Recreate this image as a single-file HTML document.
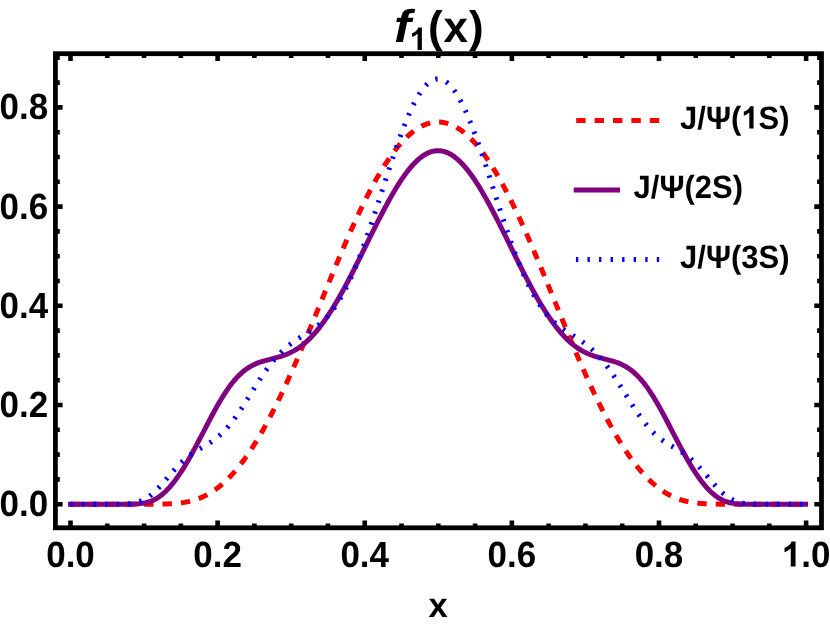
<!DOCTYPE html>
<html><head><meta charset="utf-8"><title>f1(x)</title>
<style>
html,body{margin:0;padding:0;background:#fff;}
body{width:830px;height:625px;overflow:hidden;}
svg{display:block;will-change:transform;}
text{font-family:"Liberation Sans",sans-serif;font-weight:bold;fill:#000;text-rendering:geometricPrecision;}
</style></head><body>
<svg width="830" height="625" viewBox="0 0 830 625">
<rect x="0" y="0" width="830" height="625" fill="#fff"/>
<g fill="none" stroke-width="5" stroke-linejoin="round">
<path d="M70.50,504.20 L72.34,504.20 L74.17,504.20 L76.01,504.20 L77.85,504.20 L79.69,504.20 L81.53,504.20 L83.36,504.20 L85.20,504.20 L87.04,504.20 L88.88,504.20 L90.71,504.20 L92.55,504.20 L94.39,504.20 L96.22,504.20 L98.06,504.20 L99.90,504.20 L101.74,504.20 L103.57,504.20 L105.41,504.20 L107.25,504.20 L109.09,504.20 L110.92,504.20 L112.76,504.20 L114.60,504.20 L116.44,504.20 L118.28,504.20 L120.11,504.20 L121.95,504.20 L123.79,504.20 L125.62,504.20 L127.46,504.20 L129.30,504.20 L131.14,504.20 L132.97,504.20 L134.81,504.20 L136.65,504.20 L138.49,504.20 L140.32,504.20 L142.16,504.20 L144.00,504.20 L145.84,504.19 L147.68,504.19 L149.51,504.19 L151.35,504.18 L153.19,504.17 L155.03,504.16 L156.86,504.14 L158.70,504.12 L160.54,504.10 L162.38,504.06 L164.21,504.02 L166.05,503.97 L167.89,503.90 L169.73,503.82 L171.56,503.72 L173.40,503.60 L175.24,503.46 L177.07,503.30 L178.91,503.11 L180.75,502.89 L182.59,502.63 L184.43,502.35 L186.26,502.02 L188.10,501.65 L189.94,501.23 L191.78,500.77 L193.61,500.26 L195.45,499.70 L197.29,499.08 L199.12,498.40 L200.96,497.66 L202.80,496.86 L204.64,496.00 L206.47,495.07 L208.31,494.07 L210.15,493.00 L211.99,491.86 L213.83,490.65 L215.66,489.36 L217.50,488.00 L219.34,486.57 L221.18,485.05 L223.01,483.47 L224.85,481.80 L226.69,480.06 L228.53,478.24 L230.36,476.34 L232.20,474.36 L234.04,472.31 L235.88,470.17 L237.71,467.96 L239.55,465.68 L241.39,463.31 L243.23,460.87 L245.06,458.36 L246.90,455.76 L248.74,453.10 L250.57,450.36 L252.41,447.54 L254.25,444.65 L256.09,441.69 L257.93,438.66 L259.76,435.56 L261.60,432.39 L263.44,429.15 L265.27,425.84 L267.11,422.47 L268.95,419.03 L270.79,415.53 L272.62,411.97 L274.46,408.34 L276.30,404.66 L278.14,400.91 L279.98,397.11 L281.81,393.26 L283.65,389.35 L285.49,385.39 L287.32,381.39 L289.16,377.33 L291.00,373.23 L292.84,369.08 L294.67,364.90 L296.51,360.67 L298.35,356.41 L300.19,352.12 L302.02,347.79 L303.86,343.43 L305.70,339.05 L307.54,334.64 L309.38,330.22 L311.21,325.77 L313.05,321.30 L314.89,316.83 L316.73,312.34 L318.56,307.85 L320.40,303.35 L322.24,298.85 L324.08,294.35 L325.91,289.85 L327.75,285.36 L329.59,280.89 L331.43,276.42 L333.26,271.97 L335.10,267.54 L336.94,263.14 L338.77,258.76 L340.61,254.40 L342.45,250.08 L344.29,245.79 L346.12,241.53 L347.96,237.32 L349.80,233.15 L351.64,229.02 L353.48,224.94 L355.31,220.91 L357.15,216.93 L358.99,213.01 L360.82,209.14 L362.66,205.34 L364.50,201.60 L366.34,197.92 L368.18,194.31 L370.01,190.76 L371.85,187.29 L373.69,183.89 L375.53,180.57 L377.36,177.32 L379.20,174.15 L381.04,171.07 L382.88,168.06 L384.71,165.14 L386.55,162.30 L388.39,159.56 L390.23,156.89 L392.06,154.32 L393.90,151.84 L395.74,149.46 L397.57,147.16 L399.41,144.96 L401.25,142.86 L403.09,140.85 L404.93,138.94 L406.76,137.13 L408.60,135.42 L410.44,133.80 L412.28,132.29 L414.11,130.88 L415.95,129.57 L417.79,128.37 L419.62,127.27 L421.46,126.27 L423.30,125.37 L425.14,124.58 L426.97,123.90 L428.81,123.31 L430.65,122.84 L432.49,122.47 L434.32,122.21 L436.16,122.05 L438.00,121.99 L439.84,122.05 L441.68,122.21 L443.51,122.47 L445.35,122.84 L447.19,123.31 L449.03,123.90 L450.86,124.58 L452.70,125.37 L454.54,126.27 L456.38,127.27 L458.21,128.37 L460.05,129.57 L461.89,130.88 L463.73,132.29 L465.56,133.80 L467.40,135.42 L469.24,137.13 L471.08,138.94 L472.91,140.85 L474.75,142.86 L476.59,144.96 L478.43,147.16 L480.26,149.46 L482.10,151.84 L483.94,154.32 L485.78,156.89 L487.61,159.56 L489.45,162.30 L491.29,165.14 L493.13,168.06 L494.96,171.07 L496.80,174.15 L498.64,177.32 L500.47,180.57 L502.31,183.89 L504.15,187.29 L505.99,190.76 L507.82,194.31 L509.66,197.92 L511.50,201.60 L513.34,205.34 L515.17,209.14 L517.01,213.01 L518.85,216.93 L520.69,220.91 L522.52,224.94 L524.36,229.02 L526.20,233.15 L528.04,237.32 L529.88,241.53 L531.71,245.79 L533.55,250.08 L535.39,254.40 L537.23,258.76 L539.06,263.14 L540.90,267.54 L542.74,271.97 L544.58,276.42 L546.41,280.89 L548.25,285.36 L550.09,289.85 L551.92,294.35 L553.76,298.85 L555.60,303.35 L557.44,307.85 L559.28,312.34 L561.11,316.83 L562.95,321.30 L564.79,325.77 L566.62,330.22 L568.46,334.64 L570.30,339.05 L572.14,343.43 L573.98,347.79 L575.81,352.12 L577.65,356.41 L579.49,360.67 L581.33,364.90 L583.16,369.08 L585.00,373.23 L586.84,377.33 L588.67,381.39 L590.51,385.39 L592.35,389.35 L594.19,393.26 L596.02,397.11 L597.86,400.91 L599.70,404.66 L601.54,408.34 L603.38,411.97 L605.21,415.53 L607.05,419.03 L608.89,422.47 L610.73,425.84 L612.56,429.15 L614.40,432.39 L616.24,435.56 L618.08,438.66 L619.91,441.69 L621.75,444.65 L623.59,447.54 L625.42,450.36 L627.26,453.10 L629.10,455.76 L630.94,458.36 L632.77,460.87 L634.61,463.31 L636.45,465.68 L638.29,467.96 L640.12,470.17 L641.96,472.31 L643.80,474.36 L645.64,476.34 L647.48,478.24 L649.31,480.06 L651.15,481.80 L652.99,483.47 L654.83,485.05 L656.66,486.57 L658.50,488.00 L660.34,489.36 L662.18,490.65 L664.01,491.86 L665.85,493.00 L667.69,494.07 L669.53,495.07 L671.36,496.00 L673.20,496.86 L675.04,497.66 L676.88,498.40 L678.71,499.08 L680.55,499.70 L682.39,500.26 L684.23,500.77 L686.06,501.23 L687.90,501.65 L689.74,502.02 L691.57,502.35 L693.41,502.63 L695.25,502.89 L697.09,503.11 L698.92,503.30 L700.76,503.46 L702.60,503.60 L704.44,503.72 L706.27,503.82 L708.11,503.90 L709.95,503.97 L711.79,504.02 L713.62,504.06 L715.46,504.10 L717.30,504.12 L719.14,504.14 L720.98,504.16 L722.81,504.17 L724.65,504.18 L726.49,504.19 L728.33,504.19 L730.16,504.19 L732.00,504.20 L733.84,504.20 L735.68,504.20 L737.51,504.20 L739.35,504.20 L741.19,504.20 L743.02,504.20 L744.86,504.20 L746.70,504.20 L748.54,504.20 L750.38,504.20 L752.21,504.20 L754.05,504.20 L755.89,504.20 L757.73,504.20 L759.56,504.20 L761.40,504.20 L763.24,504.20 L765.08,504.20 L766.91,504.20 L768.75,504.20 L770.59,504.20 L772.43,504.20 L774.26,504.20 L776.10,504.20 L777.94,504.20 L779.77,504.20 L781.61,504.20 L783.45,504.20 L785.29,504.20 L787.12,504.20 L788.96,504.20 L790.80,504.20 L792.64,504.20 L794.48,504.20 L796.31,504.20 L798.15,504.20 L799.99,504.20 L801.83,504.20 L803.66,504.20 L805.50,504.20" stroke="#ff0000" stroke-dasharray="9.4 9"/>
<path d="M70.50,504.20 L72.34,504.20 L74.17,504.20 L76.01,504.20 L77.85,504.20 L79.69,504.20 L81.53,504.20 L83.36,504.20 L85.20,504.20 L87.04,504.20 L88.88,504.20 L90.71,504.20 L92.55,504.20 L94.39,504.20 L96.22,504.20 L98.06,504.20 L99.90,504.20 L101.74,504.20 L103.57,504.20 L105.41,504.20 L107.25,504.20 L109.09,504.20 L110.92,504.20 L112.76,504.20 L114.60,504.20 L116.44,504.20 L118.28,504.20 L120.11,504.20 L121.95,504.20 L123.79,504.19 L125.62,504.19 L127.46,504.18 L129.30,504.16 L131.14,504.13 L132.97,504.09 L134.81,504.02 L136.65,503.93 L138.49,503.80 L140.32,503.62 L142.16,503.39 L144.00,503.09 L145.84,502.71 L147.68,502.25 L149.51,501.68 L151.35,501.01 L153.19,500.22 L155.03,499.30 L156.86,498.25 L158.70,497.08 L160.54,495.76 L162.38,494.30 L164.21,492.71 L166.05,490.97 L167.89,489.10 L169.73,487.09 L171.56,484.95 L173.40,482.68 L175.24,480.28 L177.07,477.76 L178.91,475.13 L180.75,472.39 L182.59,469.54 L184.43,466.59 L186.26,463.55 L188.10,460.41 L189.94,457.20 L191.78,453.91 L193.61,450.56 L195.45,447.15 L197.29,443.69 L199.12,440.19 L200.96,436.66 L202.80,433.12 L204.64,429.57 L206.47,426.02 L208.31,422.49 L210.15,418.99 L211.99,415.52 L213.83,412.11 L215.66,408.76 L217.50,405.49 L219.34,402.30 L221.18,399.20 L223.01,396.20 L224.85,393.31 L226.69,390.55 L228.53,387.90 L230.36,385.38 L232.20,382.99 L234.04,380.74 L235.88,378.63 L237.71,376.65 L239.55,374.80 L241.39,373.09 L243.23,371.51 L245.06,370.06 L246.90,368.73 L248.74,367.51 L250.57,366.41 L252.41,365.40 L254.25,364.50 L256.09,363.67 L257.93,362.93 L259.76,362.25 L261.60,361.64 L263.44,361.07 L265.27,360.55 L267.11,360.05 L268.95,359.57 L270.79,359.11 L272.62,358.65 L274.46,358.18 L276.30,357.70 L278.14,357.19 L279.98,356.65 L281.81,356.07 L283.65,355.45 L285.49,354.77 L287.32,354.03 L289.16,353.22 L291.00,352.35 L292.84,351.40 L294.67,350.37 L296.51,349.26 L298.35,348.06 L300.19,346.77 L302.02,345.38 L303.86,343.91 L305.70,342.34 L307.54,340.67 L309.38,338.90 L311.21,337.04 L313.05,335.07 L314.89,333.01 L316.73,330.86 L318.56,328.60 L320.40,326.26 L322.24,323.81 L324.08,321.28 L325.91,318.66 L327.75,315.95 L329.59,313.16 L331.43,310.28 L333.26,307.32 L335.10,304.29 L336.94,301.18 L338.77,298.01 L340.61,294.77 L342.45,291.46 L344.29,288.10 L346.12,284.68 L347.96,281.21 L349.80,277.69 L351.64,274.13 L353.48,270.53 L355.31,266.90 L357.15,263.24 L358.99,259.56 L360.82,255.85 L362.66,252.13 L364.50,248.40 L366.34,244.67 L368.18,240.94 L370.01,237.21 L371.85,233.49 L373.69,229.79 L375.53,226.12 L377.36,222.46 L379.20,218.85 L381.04,215.27 L382.88,211.73 L384.71,208.25 L386.55,204.81 L388.39,201.44 L390.23,198.14 L392.06,194.90 L393.90,191.75 L395.74,188.67 L397.57,185.68 L399.41,182.79 L401.25,179.99 L403.09,177.29 L404.93,174.70 L406.76,172.22 L408.60,169.86 L410.44,167.62 L412.28,165.50 L414.11,163.51 L415.95,161.65 L417.79,159.93 L419.62,158.35 L421.46,156.91 L423.30,155.61 L425.14,154.46 L426.97,153.45 L428.81,152.60 L430.65,151.90 L432.49,151.36 L434.32,150.97 L436.16,150.74 L438.00,150.66 L439.84,150.74 L441.68,150.97 L443.51,151.36 L445.35,151.90 L447.19,152.60 L449.03,153.45 L450.86,154.46 L452.70,155.61 L454.54,156.91 L456.38,158.35 L458.21,159.93 L460.05,161.65 L461.89,163.51 L463.73,165.50 L465.56,167.62 L467.40,169.86 L469.24,172.22 L471.08,174.70 L472.91,177.29 L474.75,179.99 L476.59,182.79 L478.43,185.68 L480.26,188.67 L482.10,191.75 L483.94,194.90 L485.78,198.14 L487.61,201.44 L489.45,204.81 L491.29,208.25 L493.13,211.73 L494.96,215.27 L496.80,218.85 L498.64,222.46 L500.47,226.12 L502.31,229.79 L504.15,233.49 L505.99,237.21 L507.82,240.94 L509.66,244.67 L511.50,248.40 L513.34,252.13 L515.17,255.85 L517.01,259.56 L518.85,263.24 L520.69,266.90 L522.52,270.53 L524.36,274.13 L526.20,277.69 L528.04,281.21 L529.88,284.68 L531.71,288.10 L533.55,291.46 L535.39,294.77 L537.23,298.01 L539.06,301.18 L540.90,304.29 L542.74,307.32 L544.58,310.28 L546.41,313.16 L548.25,315.95 L550.09,318.66 L551.92,321.28 L553.76,323.81 L555.60,326.26 L557.44,328.60 L559.28,330.86 L561.11,333.01 L562.95,335.07 L564.79,337.04 L566.62,338.90 L568.46,340.67 L570.30,342.34 L572.14,343.91 L573.98,345.38 L575.81,346.77 L577.65,348.06 L579.49,349.26 L581.33,350.37 L583.16,351.40 L585.00,352.35 L586.84,353.22 L588.67,354.03 L590.51,354.77 L592.35,355.45 L594.19,356.07 L596.02,356.65 L597.86,357.19 L599.70,357.70 L601.54,358.18 L603.38,358.65 L605.21,359.11 L607.05,359.57 L608.89,360.05 L610.73,360.55 L612.56,361.07 L614.40,361.64 L616.24,362.25 L618.08,362.93 L619.91,363.67 L621.75,364.50 L623.59,365.40 L625.42,366.41 L627.26,367.51 L629.10,368.73 L630.94,370.06 L632.77,371.51 L634.61,373.09 L636.45,374.80 L638.29,376.65 L640.12,378.63 L641.96,380.74 L643.80,382.99 L645.64,385.38 L647.48,387.90 L649.31,390.55 L651.15,393.31 L652.99,396.20 L654.83,399.20 L656.66,402.30 L658.50,405.49 L660.34,408.76 L662.18,412.11 L664.01,415.52 L665.85,418.99 L667.69,422.49 L669.53,426.02 L671.36,429.57 L673.20,433.12 L675.04,436.66 L676.88,440.19 L678.71,443.69 L680.55,447.15 L682.39,450.56 L684.23,453.91 L686.06,457.20 L687.90,460.41 L689.74,463.55 L691.57,466.59 L693.41,469.54 L695.25,472.39 L697.09,475.13 L698.92,477.76 L700.76,480.28 L702.60,482.68 L704.44,484.95 L706.27,487.09 L708.11,489.10 L709.95,490.97 L711.79,492.71 L713.62,494.30 L715.46,495.76 L717.30,497.08 L719.14,498.25 L720.98,499.30 L722.81,500.22 L724.65,501.01 L726.49,501.68 L728.33,502.25 L730.16,502.71 L732.00,503.09 L733.84,503.39 L735.68,503.62 L737.51,503.80 L739.35,503.93 L741.19,504.02 L743.02,504.09 L744.86,504.13 L746.70,504.16 L748.54,504.18 L750.38,504.19 L752.21,504.19 L754.05,504.20 L755.89,504.20 L757.73,504.20 L759.56,504.20 L761.40,504.20 L763.24,504.20 L765.08,504.20 L766.91,504.20 L768.75,504.20 L770.59,504.20 L772.43,504.20 L774.26,504.20 L776.10,504.20 L777.94,504.20 L779.77,504.20 L781.61,504.20 L783.45,504.20 L785.29,504.20 L787.12,504.20 L788.96,504.20 L790.80,504.20 L792.64,504.20 L794.48,504.20 L796.31,504.20 L798.15,504.20 L799.99,504.20 L801.83,504.20 L803.66,504.20 L805.50,504.20" stroke="#800080" stroke-linecap="square"/>
<path d="M70.50,504.20 L72.34,504.20 L74.17,504.20 L76.01,504.20 L77.85,504.20 L79.69,504.20 L81.53,504.20 L83.36,504.20 L85.20,504.20 L87.04,504.20 L88.88,504.20 L90.71,504.20 L92.55,504.20 L94.39,504.20 L96.22,504.20 L98.06,504.20 L99.90,504.20 L101.74,504.20 L103.57,504.20 L105.41,504.20 L107.25,504.20 L109.09,504.20 L110.92,504.20 L112.76,504.20 L114.60,504.19 L116.44,504.18 L118.28,504.17 L120.11,504.15 L121.95,504.11 L123.79,504.05 L125.62,503.97 L127.46,503.85 L129.30,503.69 L131.14,503.48 L132.97,503.20 L134.81,502.84 L136.65,502.40 L138.49,501.87 L140.32,501.22 L142.16,500.46 L144.00,499.57 L145.84,498.55 L147.68,497.40 L149.51,496.11 L151.35,494.68 L153.19,493.13 L155.03,491.45 L156.86,489.65 L158.70,487.76 L160.54,485.77 L162.38,483.72 L164.21,481.61 L166.05,479.46 L167.89,477.29 L169.73,475.12 L171.56,472.97 L173.40,470.85 L175.24,468.79 L177.07,466.78 L178.91,464.85 L180.75,463.00 L182.59,461.24 L184.43,459.57 L186.26,457.99 L188.10,456.51 L189.94,455.11 L191.78,453.79 L193.61,452.55 L195.45,451.37 L197.29,450.23 L199.12,449.14 L200.96,448.07 L202.80,447.01 L204.64,445.95 L206.47,444.86 L208.31,443.75 L210.15,442.58 L211.99,441.36 L213.83,440.06 L215.66,438.69 L217.50,437.22 L219.34,435.65 L221.18,433.98 L223.01,432.20 L224.85,430.30 L226.69,428.30 L228.53,426.18 L230.36,423.95 L232.20,421.61 L234.04,419.18 L235.88,416.64 L237.71,414.03 L239.55,411.33 L241.39,408.56 L243.23,405.74 L245.06,402.87 L246.90,399.96 L248.74,397.03 L250.57,394.09 L252.41,391.14 L254.25,388.21 L256.09,385.29 L257.93,382.41 L259.76,379.57 L261.60,376.79 L263.44,374.07 L265.27,371.41 L267.11,368.83 L268.95,366.34 L270.79,363.93 L272.62,361.62 L274.46,359.40 L276.30,357.27 L278.14,355.25 L279.98,353.32 L281.81,351.48 L283.65,349.74 L285.49,348.09 L287.32,346.53 L289.16,345.04 L291.00,343.63 L292.84,342.28 L294.67,340.99 L296.51,339.75 L298.35,338.55 L300.19,337.38 L302.02,336.24 L303.86,335.10 L305.70,333.96 L307.54,332.80 L309.38,331.63 L311.21,330.42 L313.05,329.16 L314.89,327.85 L316.73,326.46 L318.56,325.00 L320.40,323.45 L322.24,321.80 L324.08,320.04 L325.91,318.17 L327.75,316.17 L329.59,314.03 L331.43,311.75 L333.26,309.33 L335.10,306.75 L336.94,304.02 L338.77,301.12 L340.61,298.06 L342.45,294.83 L344.29,291.44 L346.12,287.88 L347.96,284.15 L349.80,280.25 L351.64,276.18 L353.48,271.96 L355.31,267.58 L357.15,263.05 L358.99,258.37 L360.82,253.55 L362.66,248.60 L364.50,243.53 L366.34,238.34 L368.18,233.04 L370.01,227.65 L371.85,222.18 L373.69,216.63 L375.53,211.03 L377.36,205.37 L379.20,199.68 L381.04,193.96 L382.88,188.24 L384.71,182.53 L386.55,176.83 L388.39,171.17 L390.23,165.55 L392.06,160.00 L393.90,154.52 L395.74,149.14 L397.57,143.86 L399.41,138.70 L401.25,133.68 L403.09,128.80 L404.93,124.09 L406.76,119.54 L408.60,115.19 L410.44,111.03 L412.28,107.09 L414.11,103.36 L415.95,99.87 L417.79,96.61 L419.62,93.61 L421.46,90.87 L423.30,88.40 L425.14,86.20 L426.97,84.27 L428.81,82.64 L430.65,81.30 L432.49,80.25 L434.32,79.50 L436.16,79.04 L438.00,78.89 L439.84,79.04 L441.68,79.50 L443.51,80.25 L445.35,81.30 L447.19,82.64 L449.03,84.27 L450.86,86.20 L452.70,88.40 L454.54,90.87 L456.38,93.61 L458.21,96.61 L460.05,99.87 L461.89,103.36 L463.73,107.09 L465.56,111.03 L467.40,115.19 L469.24,119.54 L471.08,124.09 L472.91,128.80 L474.75,133.68 L476.59,138.70 L478.43,143.86 L480.26,149.14 L482.10,154.52 L483.94,160.00 L485.78,165.55 L487.61,171.17 L489.45,176.83 L491.29,182.53 L493.13,188.24 L494.96,193.96 L496.80,199.68 L498.64,205.37 L500.47,211.03 L502.31,216.63 L504.15,222.18 L505.99,227.65 L507.82,233.04 L509.66,238.34 L511.50,243.53 L513.34,248.60 L515.17,253.55 L517.01,258.37 L518.85,263.05 L520.69,267.58 L522.52,271.96 L524.36,276.18 L526.20,280.25 L528.04,284.15 L529.88,287.88 L531.71,291.44 L533.55,294.83 L535.39,298.06 L537.23,301.12 L539.06,304.02 L540.90,306.75 L542.74,309.33 L544.58,311.75 L546.41,314.03 L548.25,316.17 L550.09,318.17 L551.92,320.04 L553.76,321.80 L555.60,323.45 L557.44,325.00 L559.28,326.46 L561.11,327.85 L562.95,329.16 L564.79,330.42 L566.62,331.63 L568.46,332.80 L570.30,333.96 L572.14,335.10 L573.98,336.24 L575.81,337.38 L577.65,338.55 L579.49,339.75 L581.33,340.99 L583.16,342.28 L585.00,343.63 L586.84,345.04 L588.67,346.53 L590.51,348.09 L592.35,349.74 L594.19,351.48 L596.02,353.32 L597.86,355.25 L599.70,357.27 L601.54,359.40 L603.38,361.62 L605.21,363.93 L607.05,366.34 L608.89,368.83 L610.73,371.41 L612.56,374.07 L614.40,376.79 L616.24,379.57 L618.08,382.41 L619.91,385.29 L621.75,388.21 L623.59,391.14 L625.42,394.09 L627.26,397.03 L629.10,399.96 L630.94,402.87 L632.77,405.74 L634.61,408.56 L636.45,411.33 L638.29,414.03 L640.12,416.64 L641.96,419.18 L643.80,421.61 L645.64,423.95 L647.48,426.18 L649.31,428.30 L651.15,430.30 L652.99,432.20 L654.83,433.98 L656.66,435.65 L658.50,437.22 L660.34,438.69 L662.18,440.06 L664.01,441.36 L665.85,442.58 L667.69,443.75 L669.53,444.86 L671.36,445.95 L673.20,447.01 L675.04,448.07 L676.88,449.14 L678.71,450.23 L680.55,451.37 L682.39,452.55 L684.23,453.79 L686.06,455.11 L687.90,456.51 L689.74,457.99 L691.57,459.57 L693.41,461.24 L695.25,463.00 L697.09,464.85 L698.92,466.78 L700.76,468.79 L702.60,470.85 L704.44,472.97 L706.27,475.12 L708.11,477.29 L709.95,479.46 L711.79,481.61 L713.62,483.72 L715.46,485.77 L717.30,487.76 L719.14,489.65 L720.98,491.45 L722.81,493.13 L724.65,494.68 L726.49,496.11 L728.33,497.40 L730.16,498.55 L732.00,499.57 L733.84,500.46 L735.68,501.22 L737.51,501.87 L739.35,502.40 L741.19,502.84 L743.02,503.20 L744.86,503.48 L746.70,503.69 L748.54,503.85 L750.38,503.97 L752.21,504.05 L754.05,504.11 L755.89,504.15 L757.73,504.17 L759.56,504.18 L761.40,504.19 L763.24,504.20 L765.08,504.20 L766.91,504.20 L768.75,504.20 L770.59,504.20 L772.43,504.20 L774.26,504.20 L776.10,504.20 L777.94,504.20 L779.77,504.20 L781.61,504.20 L783.45,504.20 L785.29,504.20 L787.12,504.20 L788.96,504.20 L790.80,504.20 L792.64,504.20 L794.48,504.20 L796.31,504.20 L798.15,504.20 L799.99,504.20 L801.83,504.20 L803.66,504.20 L805.50,504.20" stroke="#0000ff" stroke-dasharray="2.35 9.2"/>
</g>
<rect x="55.4" y="53.7" width="766.1" height="474.09999999999997" fill="none" stroke="#000" stroke-width="4.8"/>
<path d="M70.50,527.8 v-7.2 M70.50,53.7 v7.2 M107.28,527.8 v-4.4 M107.28,53.7 v4.4 M144.06,527.8 v-4.4 M144.06,53.7 v4.4 M180.84,527.8 v-4.4 M180.84,53.7 v4.4 M217.62,527.8 v-7.2 M217.62,53.7 v7.2 M254.40,527.8 v-4.4 M254.40,53.7 v4.4 M291.18,527.8 v-4.4 M291.18,53.7 v4.4 M327.96,527.8 v-4.4 M327.96,53.7 v4.4 M364.74,527.8 v-7.2 M364.74,53.7 v7.2 M401.52,527.8 v-4.4 M401.52,53.7 v4.4 M438.30,527.8 v-4.4 M438.30,53.7 v4.4 M475.08,527.8 v-4.4 M475.08,53.7 v4.4 M511.86,527.8 v-7.2 M511.86,53.7 v7.2 M548.64,527.8 v-4.4 M548.64,53.7 v4.4 M585.42,527.8 v-4.4 M585.42,53.7 v4.4 M622.20,527.8 v-4.4 M622.20,53.7 v4.4 M658.98,527.8 v-7.2 M658.98,53.7 v7.2 M695.76,527.8 v-4.4 M695.76,53.7 v4.4 M732.54,527.8 v-4.4 M732.54,53.7 v4.4 M769.32,527.8 v-4.4 M769.32,53.7 v4.4 M806.10,527.8 v-7.2 M806.10,53.7 v7.2 M55.4,504.20 h7.2 M821.5,504.20 h-7.2 M55.4,479.40 h4.4 M821.5,479.40 h-4.4 M55.4,454.60 h4.4 M821.5,454.60 h-4.4 M55.4,429.80 h4.4 M821.5,429.80 h-4.4 M55.4,405.00 h7.2 M821.5,405.00 h-7.2 M55.4,380.20 h4.4 M821.5,380.20 h-4.4 M55.4,355.40 h4.4 M821.5,355.40 h-4.4 M55.4,330.60 h4.4 M821.5,330.60 h-4.4 M55.4,305.80 h7.2 M821.5,305.80 h-7.2 M55.4,281.00 h4.4 M821.5,281.00 h-4.4 M55.4,256.20 h4.4 M821.5,256.20 h-4.4 M55.4,231.40 h4.4 M821.5,231.40 h-4.4 M55.4,206.60 h7.2 M821.5,206.60 h-7.2 M55.4,181.80 h4.4 M821.5,181.80 h-4.4 M55.4,157.00 h4.4 M821.5,157.00 h-4.4 M55.4,132.20 h4.4 M821.5,132.20 h-4.4 M55.4,107.40 h7.2 M821.5,107.40 h-7.2 M55.4,82.60 h4.4 M821.5,82.60 h-4.4 M55.4,57.80 h4.4 M821.5,57.80 h-4.4" fill="none" stroke="#000" stroke-width="4.6"/>
<g><text transform="translate(70.50,566.60) scale(0.9611,1)" font-size="36.42" text-anchor="middle">0.0</text><text transform="translate(217.62,566.60) scale(0.9611,1)" font-size="36.42" text-anchor="middle">0.2</text><text transform="translate(364.74,566.60) scale(0.9611,1)" font-size="36.42" text-anchor="middle">0.4</text><text transform="translate(511.86,566.60) scale(0.9611,1)" font-size="36.42" text-anchor="middle">0.6</text><text transform="translate(658.98,566.60) scale(0.9611,1)" font-size="36.42" text-anchor="middle">0.8</text><path transform="translate(781.77,566.60) scale(0.01709,-0.01709)" d="M806,0H525V1059Q371,915 162,846V1101Q272,1137 401,1237.5Q530,1338 578,1472H806Z" fill="#000"/><text transform="translate(801.24,566.60) scale(0.9611,1)" font-size="36.42" text-anchor="start">.0</text><text transform="translate(48.20,516.10) scale(0.9611,1)" font-size="36.42" text-anchor="end">0.0</text><text transform="translate(48.20,416.90) scale(0.9611,1)" font-size="36.42" text-anchor="end">0.2</text><text transform="translate(48.20,317.70) scale(0.9611,1)" font-size="36.42" text-anchor="end">0.4</text><text transform="translate(48.20,218.50) scale(0.9611,1)" font-size="36.42" text-anchor="end">0.6</text><text transform="translate(48.20,119.30) scale(0.9611,1)" font-size="36.42" text-anchor="end">0.8</text><text transform="translate(438.00,617.10) scale(1,1)" font-size="34.6" text-anchor="middle">x</text><text transform="translate(394.00,42.00) scale(1.11,1)" font-size="46" text-anchor="start" font-style="italic">f</text><path transform="translate(409.60,50.00) scale(0.01523,-0.01523)" d="M806,0H525V1059Q371,915 162,846V1101Q272,1137 401,1237.5Q530,1338 578,1472H806Z" fill="#000"/><text transform="translate(428.10,42.00) scale(1.0,1)" font-size="44" text-anchor="start">(</text><text transform="translate(443.45,42.00) scale(1.0,1)" font-size="44" text-anchor="start">x</text><text transform="translate(468.90,42.00) scale(1.0,1)" font-size="44" text-anchor="start">)</text></g>
<g fill="none" stroke-width="5">
<path d="M576.2,120.4 H659.9" stroke="#ff0000" stroke-dasharray="9.4 9"/>
<path d="M573.7,189.9 H620" stroke="#800080"/>
<path d="M575.95,259.6 H659.9" stroke="#0000ff" stroke-dasharray="2.35 9.2"/>
</g>
<g><text transform="translate(680.10,128.50) scale(0.9611,1)" font-size="32.25" text-anchor="start">J/Ψ(</text><path transform="translate(741.36,128.50) scale(0.01514,-0.01514)" d="M806,0H525V1059Q371,915 162,846V1101Q272,1137 401,1237.5Q530,1338 578,1472H806Z" fill="#000"/><text transform="translate(758.59,128.50) scale(0.9611,1)" font-size="32.25" text-anchor="start">S)</text><text transform="translate(633.60,198.40) scale(0.9611,1)" font-size="32.25" text-anchor="start">J/Ψ(</text><text transform="translate(694.86,198.40) scale(0.9611,1)" font-size="32.25" text-anchor="start">2</text><text transform="translate(712.09,198.40) scale(0.9611,1)" font-size="32.25" text-anchor="start">S)</text><text transform="translate(680.10,268.00) scale(0.9611,1)" font-size="32.25" text-anchor="start">J/Ψ(</text><text transform="translate(741.36,268.00) scale(0.9611,1)" font-size="32.25" text-anchor="start">3</text><text transform="translate(758.59,268.00) scale(0.9611,1)" font-size="32.25" text-anchor="start">S)</text></g>
</svg>
</body></html>
